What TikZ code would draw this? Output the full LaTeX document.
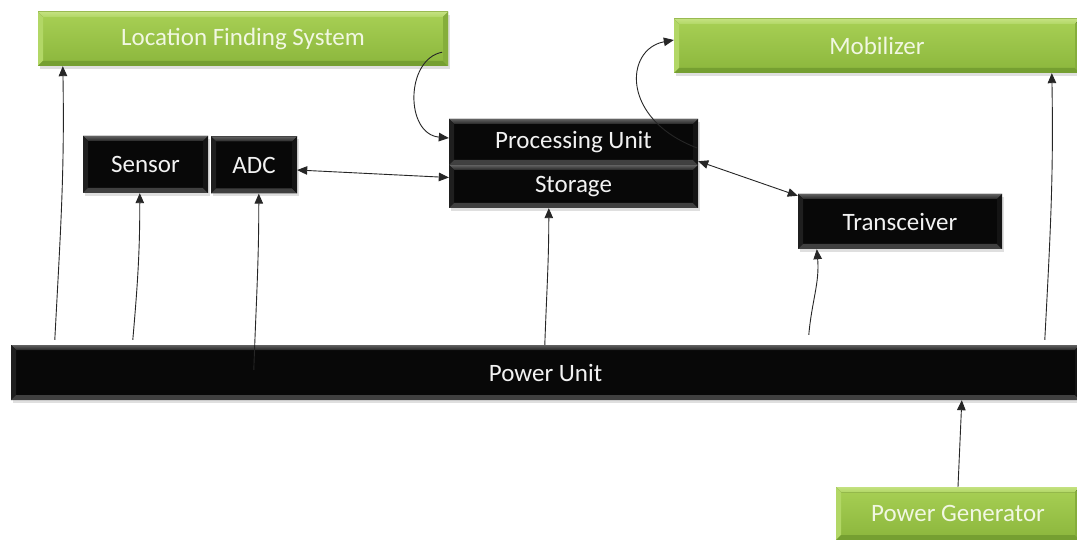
\documentclass[tikz,border=0pt]{standalone}
\usepackage{fontspec}
\setmainfont{Carlito}
\usetikzlibrary{arrows.meta,shadows,calc}

\definecolor{grnTop}{HTML}{A8D055}
\definecolor{grnBot}{HTML}{8BB63C}
\definecolor{grnHi}{HTML}{C3E17F}
\definecolor{grnSide}{HTML}{B2D766}
\definecolor{grnLow}{HTML}{759F31}
\definecolor{grnRight}{HTML}{85AE3B}
\definecolor{grnText}{HTML}{F1F7E2}
\definecolor{lineCol}{HTML}{262626}

% four bevel bands: top, left, bottom, right
\newcommand\bevelpic[4]{%
  \coordinate (bbsw) at (path picture bounding box.south west);
  \coordinate (bbne) at (path picture bounding box.north east);
  \coordinate (bbnw) at (bbsw |- bbne);
  \coordinate (bbse) at (bbne |- bbsw);
  \fill[#1] (bbnw) -- (bbne) -- ($(bbne)+(-5,-5)$) -- ($(bbnw)+(5,-5)$) -- cycle;
  \fill[#2] (bbnw) -- ($(bbnw)+(5,-5)$) -- ($(bbsw)+(5,5)$) -- (bbsw) -- cycle;
  \fill[#3] (bbsw) -- ($(bbsw)+(5,5)$) -- ($(bbse)+(-5,5)$) -- (bbse) -- cycle;
  \fill[#4] (bbse) -- ($(bbse)+(-5,5)$) -- ($(bbne)+(-5,-5)$) -- (bbne) -- cycle;
}

\tikzset{
  x=1pt, y=1pt,
  boxbase/.style={inner sep=0pt, font=\fontsize{25}{30}\selectfont,
    drop shadow={opacity=0.25, shadow xshift=1.5pt, shadow yshift=-3pt}},
  blackbox/.style={boxbase, fill=black!97, text=white!95!black,
    path picture={\bevelpic{top color=black!62, bottom color=black!85}{black!88}{black!75}{black!92}}},
  greenbox/.style={boxbase, top color=grnTop, bottom color=grnBot, text=grnText,
    path picture={\bevelpic{top color=grnHi, bottom color=grnSide}{grnSide}{grnLow}{grnRight}}},
  arr/.style={-{Triangle[length=10pt,width=8.5pt]}, draw=lineCol, line width=0.9pt},
  darr/.style={{Triangle[length=10pt,width=8.5pt]}-{Triangle[length=10pt,width=8.5pt]}, draw=lineCol, line width=0.9pt}
}

\begin{document}
\begin{tikzpicture}
\useasboundingbox (0,0) rectangle (1077,539);
\fill[white] (0,0) rectangle (1077,539);

% green units
\node[greenbox, minimum width=410pt, minimum height=54pt] (lfs) at (243,500) {Location Finding System};
\node[greenbox, minimum width=406pt, minimum height=54pt] (mob) at (877,493) {Mobilizer};
\node[greenbox, minimum width=244pt, minimum height=53pt] (gen) at (958,25.5) {Power Generator};

% black units
\node[blackbox, minimum width=249pt, minimum height=46pt] (proc) at (573.5,397) {Processing Unit};
\node[blackbox, minimum width=249pt, minimum height=43pt] (stor) at (573.5,352.5) {Storage};
\node[blackbox, minimum width=125pt, minimum height=57pt] (sensor) at (145.5,374.5) {Sensor};
\node[blackbox, minimum width=86pt, minimum height=57pt] (adc) at (254,374) {ADC};
\node[blackbox, minimum width=204pt, minimum height=55pt] (trans) at (900,317.5) {Transceiver};
\node[blackbox, minimum width=1069pt, minimum height=55pt] (power) at (545.5,166.5) {Power Unit};

% supply lines from the power unit
\draw[arr] ($(power.north west)+(44,5)$) to[out=87,in=-89] ($(lfs.south west)+(25,0)$);
\draw[arr] ($(power.north west)+(122,5)$) to[out=85,in=-90] ($(sensor.south west)+(57,0)$);
\draw[arr] ($(power.north west)+(243,-25)$) to[out=88,in=-90] ($(adc.south west)+(48,0)$);
\draw[arr] ($(power.north west)+(534,0)$) to[out=88,in=-90] ($(stor.south west)+(100,0)$);
\draw[arr] ($(power.north west)+(798,10)$) to[out=85,in=-85] ($(trans.south west)+(19,0)$);
\draw[arr] ($(power.north west)+(1034,5)$) to[out=87,in=-89] ($(mob.south west)+(378,0)$);
\draw[arr] (gen.north) -- ($(power.south west)+(951,0)$);

% data paths
\draw[darr] ($(adc.east)+(0,-5)$) -- ($(stor.west)+(0,9)$);
\draw[darr] ($(proc.south east)+(0,4)$) -- ($(trans.north west)+(0,-2)$);
\draw[arr] ($(lfs.south east)+(-6,14)$) .. controls +(-37,-7) and +(-44,4) .. ($(proc.west)+(0,4)$);
\draw[arr] ($(proc.east)+(-1,-6)$) .. controls +(-77,29) and +(-49,-9) .. ($(mob.west)+(0,6)$);
\end{tikzpicture}
\end{document}
